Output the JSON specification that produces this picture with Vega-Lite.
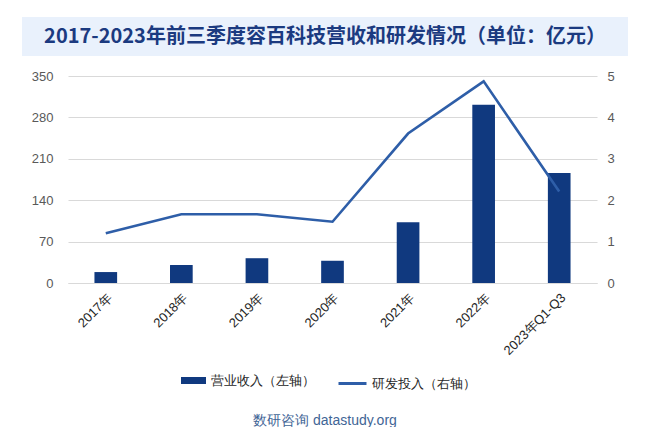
{
  "$schema": "https://vega.github.io/schema/vega-lite/v6.json",
  "background": "white",
  "padding": {"left": 22, "top": 17, "right": 0, "bottom": 0},
  "spacing": 20,
  "bounds": "flush",
  "config": {"font": "Liberation Sans", "view": {"stroke": null}},
  "datasets": {
    "titleRows": [{"t": "2017-2023年前三季度容百科技营收和研发情况（单位：亿元）"}],
    "main": [
      {"period": "2017年", "revenue": 18.5, "rd": 1.2},
      {"period": "2018年", "revenue": 30.4, "rd": 1.66},
      {"period": "2019年", "revenue": 41.9, "rd": 1.66},
      {"period": "2020年", "revenue": 37.6, "rd": 1.48},
      {"period": "2021年", "revenue": 102.6, "rd": 3.61},
      {"period": "2022年", "revenue": 301.2, "rd": 4.87},
      {"period": "2023年Q1-Q3", "revenue": 186.2, "rd": 2.21}
    ]
  },
  "vconcat": [
    {
      "width": 606,
      "height": 39,
      "view": {"fill": "#e9f1fc", "stroke": null},
      "data": {"name": "titleRows"},
      "mark": {"type": "text", "font": "Noto Sans CJK SC", "fontWeight": "bold", "fontSize": 20, "color": "#1b3a80"},
      "encoding": {"text": {"field": "t", "type": "nominal"}}
    },
    {
      "bounds": "flush",
      "spacing": 0,
      "hconcat": [
        {
          "width": 46,
          "height": 207,
          "data": {"name": "titleRows"},
          "mark": {"type": "text"},
          "encoding": {"text": {"value": ""}}
        },
        {
          "width": 529,
          "height": 207,
          "data": {"name": "main"},
          "encoding": {
            "x": {
              "field": "period",
              "type": "nominal",
              "sort": null,
              "scale": {"paddingInner": 0.7, "paddingOuter": 0.35},
              "axis": {
                "title": "数研咨询 datastudy.org",
                "titleColor": "#3f6596",
                "titleFontSize": 14,
                "titleFontWeight": "normal",
                "titleFont": "Liberation Sans",
                "titleX": 256.5,
                "titleY": 137,
                "titleAnchor": null,
                "titleAlign": "center",
                "titleBaseline": "middle",
                "labelAngle": -45,
                "labelFontSize": 13,
                "labelColor": "#262626",
                "labelPadding": 8,
                "ticks": false,
                "domain": true,
                "domainColor": "#d9d9d9",
                "grid": false
              }
            }
          },
          "layer": [
            {
              "mark": {"type": "bar"},
              "encoding": {
                "y": {
                  "field": "revenue",
                  "type": "quantitative",
                  "scale": {"domain": [0, 350], "nice": false},
                  "axis": {
                    "title": null,
                    "values": [0, 70, 140, 210, 280, 350],
                    "grid": true,
                    "gridColor": "#d9d9d9",
                    "domain": false,
                    "ticks": false,
                    "labelColor": "#595959",
                    "labelFontSize": 13,
                    "labelPadding": 15
                  }
                },
                "fill": {
                  "datum": "营业收入（左轴）",
                  "type": "nominal",
                  "scale": {"range": ["#10397f"]},
                  "legend": {
                    "title": null,
                    "orient": "none",
                    "legendX": 159,
                    "legendY": 351,
                    "symbolType": "M-1,-0.28H1V0.28H-1Z",
                    "symbolSize": 625,
                    "symbolStrokeWidth": 0,
                    "labelFontSize": 13,
                    "labelColor": "#262626",
                    "labelOffset": 5
                  }
                }
              }
            },
            {
              "mark": {"type": "line", "strokeWidth": 2.6},
              "encoding": {
                "y": {
                  "field": "rd",
                  "type": "quantitative",
                  "scale": {"domain": [0, 5], "nice": false},
                  "axis": {
                    "orient": "right",
                    "title": null,
                    "values": [0, 1, 2, 3, 4, 5],
                    "grid": false,
                    "domain": false,
                    "ticks": false,
                    "labelColor": "#595959",
                    "labelFontSize": 13,
                    "labelPadding": 10
                  }
                },
                "stroke": {
                  "datum": "研发投入（右轴）",
                  "type": "nominal",
                  "scale": {"range": ["#2e5ea8"]},
                  "legend": {
                    "title": null,
                    "orient": "none",
                    "legendX": 315,
                    "legendY": 351,
                    "symbolType": "stroke",
                    "symbolSize": 784,
                    "symbolStrokeWidth": 3,
                    "labelFontSize": 13,
                    "labelColor": "#262626",
                    "labelOffset": 4
                  }
                }
              }
            }
          ],
          "resolve": {"scale": {"y": "independent"}}
        }
      ]
    }
  ]
}
